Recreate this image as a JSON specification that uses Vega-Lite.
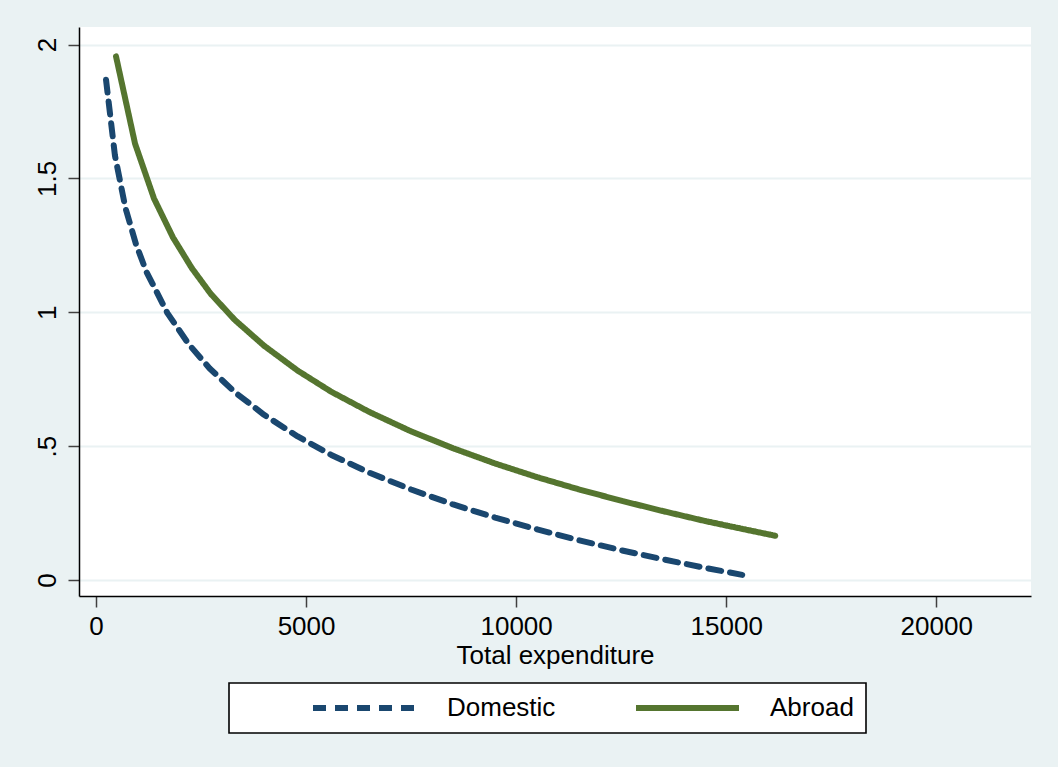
{
  "$schema": "https://vega.github.io/schema/vega-lite/v6.json",
  "autosize": {"type": "none"},
  "width": 952,
  "height": 569,
  "padding": {"left": 79, "top": 27, "right": 27, "bottom": 171},
  "background": "#EAF2F3",
  "config": {
    "font": "Liberation Sans",
    "view": {"fill": "white", "stroke": null},
    "axis": {
      "labelFont": "Liberation Sans",
      "titleFont": "Liberation Sans",
      "labelFontSize": 26,
      "titleFontSize": 26,
      "labelColor": "black",
      "titleColor": "black",
      "titleFontWeight": "normal",
      "domainColor": "black",
      "domainWidth": 1.5,
      "tickColor": "#404040",
      "tickWidth": 1.5,
      "tickSize": 11
    }
  },
  "data": {
    "values": [
      {"exp": 238, "val": 1.869, "type": "Domestic"},
      {"exp": 450, "val": 1.586, "type": "Domestic"},
      {"exp": 700, "val": 1.390, "type": "Domestic"},
      {"exp": 950, "val": 1.255, "type": "Domestic"},
      {"exp": 1200, "val": 1.151, "type": "Domestic"},
      {"exp": 1700, "val": 0.997, "type": "Domestic"},
      {"exp": 2200, "val": 0.882, "type": "Domestic"},
      {"exp": 2700, "val": 0.791, "type": "Domestic"},
      {"exp": 3300, "val": 0.702, "type": "Domestic"},
      {"exp": 4000, "val": 0.617, "type": "Domestic"},
      {"exp": 4800, "val": 0.536, "type": "Domestic"},
      {"exp": 5600, "val": 0.467, "type": "Domestic"},
      {"exp": 6500, "val": 0.401, "type": "Domestic"},
      {"exp": 7500, "val": 0.338, "type": "Domestic"},
      {"exp": 8500, "val": 0.282, "type": "Domestic"},
      {"exp": 9500, "val": 0.233, "type": "Domestic"},
      {"exp": 10500, "val": 0.189, "type": "Domestic"},
      {"exp": 11500, "val": 0.148, "type": "Domestic"},
      {"exp": 12500, "val": 0.111, "type": "Domestic"},
      {"exp": 13500, "val": 0.077, "type": "Domestic"},
      {"exp": 14500, "val": 0.045, "type": "Domestic"},
      {"exp": 15381, "val": 0.019, "type": "Domestic"},
      {"exp": 476, "val": 1.956, "type": "Abroad"},
      {"exp": 929, "val": 1.630, "type": "Abroad"},
      {"exp": 1380, "val": 1.425, "type": "Abroad"},
      {"exp": 1830, "val": 1.280, "type": "Abroad"},
      {"exp": 2280, "val": 1.165, "type": "Abroad"},
      {"exp": 2730, "val": 1.069, "type": "Abroad"},
      {"exp": 3300, "val": 0.972, "type": "Abroad"},
      {"exp": 4000, "val": 0.875, "type": "Abroad"},
      {"exp": 4800, "val": 0.782, "type": "Abroad"},
      {"exp": 5600, "val": 0.703, "type": "Abroad"},
      {"exp": 6500, "val": 0.628, "type": "Abroad"},
      {"exp": 7500, "val": 0.555, "type": "Abroad"},
      {"exp": 8500, "val": 0.492, "type": "Abroad"},
      {"exp": 9500, "val": 0.435, "type": "Abroad"},
      {"exp": 10500, "val": 0.384, "type": "Abroad"},
      {"exp": 11500, "val": 0.338, "type": "Abroad"},
      {"exp": 12500, "val": 0.296, "type": "Abroad"},
      {"exp": 13500, "val": 0.257, "type": "Abroad"},
      {"exp": 14500, "val": 0.220, "type": "Abroad"},
      {"exp": 15400, "val": 0.190, "type": "Abroad"},
      {"exp": 16167, "val": 0.165, "type": "Abroad"}
    ]
  },
  "mark": {"type": "line", "strokeWidth": 6, "strokeCap": "round", "strokeJoin": "round"},
  "encoding": {
    "x": {
      "field": "exp",
      "type": "quantitative",
      "title": "Total expenditure",
      "scale": {"domain": [-405, 22255], "nice": false, "zero": false},
      "axis": {"values": [0, 5000, 10000, 15000, 20000], "format": "d", "grid": false, "labelPadding": 6, "titlePadding": 3}
    },
    "y": {
      "field": "val",
      "type": "quantitative",
      "title": null,
      "scale": {"domain": [-0.06, 2.0657], "nice": false, "zero": false},
      "axis": {
        "values": [0, 0.5, 1, 1.5, 2],
        "format": "~g",
        "labelExpr": "datum.label == '0.5' ? '.5' : datum.label",
        "labelAngle": -90,
        "labelAlign": "center",
        "labelBaseline": "bottom",
        "labelPadding": 8,
        "grid": true,
        "gridColor": "#EAF2F3",
        "gridWidth": 2
      }
    },
    "color": {
      "field": "type",
      "type": "nominal",
      "scale": {"domain": ["Domestic", "Abroad"], "range": ["#1A476F", "#55752F"]},
      "legend": {
        "title": null,
        "orient": "none",
        "legendX": 150,
        "legendY": 656,
        "direction": "horizontal",
        "columns": 2,
        "gridAlign": "all",
        "symbolType": "stroke",
        "symbolSize": 10609,
        "symbolStrokeWidth": 6,
        "symbolOffset": 69,
        "clipHeight": 26,
        "labelOffset": 28,
        "labelFont": "Liberation Sans",
        "labelFontSize": 26,
        "labelColor": "black",
        "columnPadding": 8,
        "padding": 12,
        "fillColor": "white",
        "strokeColor": "black",
        "labelLimit": 400,
        "encode": {"legend": {"update": {"strokeWidth": {"value": 1.6}}}}
      }
    },
    "strokeDash": {
      "field": "type",
      "type": "nominal",
      "scale": {"domain": ["Domestic", "Abroad"], "range": [[13, 9], [1, 0]]},
      "legend": null
    }
  }
}
